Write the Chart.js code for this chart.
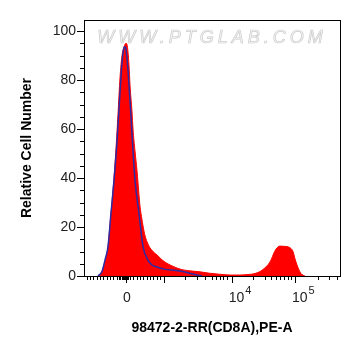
<!DOCTYPE html>
<html>
<head>
<meta charset="utf-8">
<script src="https://cdn.jsdelivr.net/npm/chart.js@4.4.1/dist/chart.umd.min.js"></script>
<style>
  html, body { margin: 0; padding: 0; background: #fff; }
  #wrap { width: 361px; height: 356px; }
</style>
</head>
<body>
<div id="wrap"><canvas id="histChart" width="361" height="356"></canvas></div>
<script>
// channel = position on the biexponential display axis (0..256), counts = relative cell number
const sampleChannels = [14, 16, 18, 21, 24, 26, 29, 32, 34, 36, 38, 40, 42, 43, 45, 46, 48, 49, 51, 53,
  55, 56, 58, 59, 61, 63, 66, 69, 71, 73, 75, 78, 82, 86, 92, 98, 106, 116, 126, 136,
  146, 156, 164, 170, 176, 180, 184, 187, 190, 193, 196, 200, 204, 207, 209, 211, 213, 215, 217, 219, 221];
const sampleCounts = [0, 0.5, 2, 6, 12, 21, 35, 52, 66, 81, 90, 93.5, 95, 94.5, 86, 78, 67, 60, 51, 43,
  33, 28.5, 23, 20.5, 16.5, 14, 11.5, 10, 9.2, 8.6, 7.8, 6.6, 5.4, 4.5, 3.4, 2.6, 2.1, 1.7, 1.1, 0.7,
  0.4, 0.4, 0.6, 0.9, 1.8, 3, 4.6, 6.5, 9.5, 11.5, 12.2, 12.1, 11.9, 11.2, 10, 7, 4.5, 2.5, 1, 0.3, 0];

const controlChannels = [14, 18, 21, 24, 27, 30, 33, 36, 38, 40, 41, 42, 44, 45, 47, 49, 51, 55, 59, 64,
  68, 73, 80, 92, 102, 110, 118];
const controlCounts = [0, 1.8, 6.5, 12, 25.7, 39, 55, 75, 87, 93.3, 93.6, 92.5, 84, 78, 65, 51, 39, 25.5, 12, 6.5,
  4.5, 3.7, 2.8, 2.2, 1.5, 0.7, 0];

const yMajorTicks = [0, 20, 40, 60, 80, 100];
const yMinorTicks = [5, 10, 15, 25, 30, 35, 45, 50, 55, 65, 70, 75, 85, 90, 95];

const xMajorTicks = [42, 80, 147.7, 211];
const xTickBase = ["0", "", "10", "10"];
const xTickExp = ["", "", "4", "5"];
const xMinorTicks = [2.7, 6, 9.3, 12.7, 16, 19.3, 22.7, 26, 29.3, 32.7,
  35, 36.3, 37.5, 38.6, 39.6, 40.5, 41.3, 42.8, 43.6,
  46, 49.3, 52.7, 56, 59.3, 62.7, 66, 69.3, 72.7, 76,
  101, 113.3, 121, 127.7, 132, 136, 139.3, 142.7,
  169, 181, 187, 191.7, 196, 200.3, 203.7, 207,
  233.7, 245, 252.7];

const xTitle = "98472-2-RR(CD8A),PE-A";
const yTitle = "Relative Cell Number";

const toPoints = (xs, ys) => xs.map((x, i) => ({ x, y: ys[i] }));

const axisDecor = {
  id: "axisDecor",
  beforeDatasetsDraw(chart) {
    const { ctx, chartArea } = chart;
    ctx.save();
    ctx.font = "italic 18px 'Liberation Sans', Arial, sans-serif";
    ctx.letterSpacing = "4px";
    ctx.textAlign = "center";
    ctx.textBaseline = "middle";
    ctx.fillStyle = "#f7f7f7";
    ctx.strokeStyle = "#cccccc";
    ctx.lineWidth = 0.7;
    const cx = (chartArea.left + chartArea.right) / 2;
    ctx.fillText("WWW.PTGLAB.COM", cx, chartArea.top + 18);
    ctx.strokeText("WWW.PTGLAB.COM", cx, chartArea.top + 18);
    ctx.restore();
  },
  afterDraw(chart) {
    const { ctx, chartArea } = chart;
    const xs = chart.scales.x;
    const ys = chart.scales.y;
    const { left, right, top, bottom } = chartArea;
    ctx.save();
    ctx.strokeStyle = "#000";
    ctx.lineWidth = 1;
    ctx.strokeRect(left + 0.5, top + 0.5, right - left, bottom - top);

    ctx.beginPath();
    yMajorTicks.forEach((v) => {
      const y = Math.round(ys.getPixelForValue(v)) + 0.5;
      ctx.moveTo(left - 7, y);
      ctx.lineTo(left, y);
    });
    yMinorTicks.forEach((v) => {
      const y = Math.round(ys.getPixelForValue(v)) + 0.5;
      ctx.moveTo(left - 4, y);
      ctx.lineTo(left, y);
    });
    xMajorTicks.forEach((v) => {
      const x = Math.round(xs.getPixelForValue(v)) + 0.5;
      ctx.moveTo(x, bottom);
      ctx.lineTo(x, bottom + 7);
    });
    xMinorTicks.forEach((v) => {
      const x = Math.round(xs.getPixelForValue(v)) + 0.5;
      ctx.moveTo(x, bottom);
      ctx.lineTo(x, bottom + 4);
    });
    ctx.stroke();

    // x tick labels, powers of ten with raised exponent
    ctx.fillStyle = "#222";
    ctx.textBaseline = "middle";
    xMajorTicks.forEach((v, i) => {
      const base = xTickBase[i];
      if (!base) return;
      const x = xs.getPixelForValue(v);
      ctx.font = "14px 'Liberation Sans', Arial, sans-serif";
      if (!xTickExp[i]) {
        ctx.textAlign = "center";
        ctx.fillText(base, x + 1, bottom + 22);
        return;
      }
      ctx.textAlign = "left";
      ctx.fillText(base, x - 3, bottom + 22);
      const w = ctx.measureText(base).width;
      ctx.font = "11px 'Liberation Sans', Arial, sans-serif";
      ctx.fillText(xTickExp[i], x - 3 + w + 1, bottom + 15);
    });
    ctx.restore();
  },
};

new Chart(document.getElementById("histChart"), {
  type: "line",
  data: {
    datasets: [
      {
        label: "Control",
        data: toPoints(controlChannels, controlCounts),
        borderColor: "#2b2ba6",
        borderWidth: 1.5,
        fill: false,
        pointRadius: 0,
        cubicInterpolationMode: "monotone",
      },
      {
        label: "98472-2-RR",
        data: toPoints(sampleChannels, sampleCounts),
        borderColor: "#ff0000",
        backgroundColor: "#ff0000",
        borderWidth: 1,
        fill: "origin",
        pointRadius: 0,
        cubicInterpolationMode: "monotone",
      },
    ],
  },
  options: {
    responsive: false,
    animation: false,
    devicePixelRatio: 1,
    layout: { padding: { top: 20, right: 21, bottom: 0, left: 0 } },
    plugins: { legend: { display: false }, tooltip: { enabled: false } },
    scales: {
      x: {
        type: "linear",
        min: 0,
        max: 256,
        grid: { display: false, drawTicks: false },
        border: { display: false },
        ticks: { display: false },
        title: {
          display: true,
          text: xTitle,
          color: "#000",
          font: { family: "'Liberation Sans', Arial, sans-serif", size: 14, weight: "bold" },
          padding: { top: 0, bottom: 19.6 },
        },
        afterFit(scale) { scale.height = 80; },
      },
      y: {
        min: 0,
        max: 104.5,
        afterBuildTicks(scale) { scale.ticks = yMajorTicks.map((v) => ({ value: v })); },
        grid: { display: false, drawTicks: false },
        border: { display: false },
        ticks: {
          padding: 8,
          color: "#222",
          font: { family: "'Liberation Sans', Arial, sans-serif", size: 14 },
        },
        title: {
          display: true,
          text: yTitle,
          color: "#000",
          font: { family: "'Liberation Sans', Arial, sans-serif", size: 14, weight: "bold" },
          padding: { top: 18.6, bottom: 0 },
        },
        afterFit(scale) { scale.width = 84; },
      },
    },
  },
  plugins: [axisDecor],
});
</script>
</body>
</html>
